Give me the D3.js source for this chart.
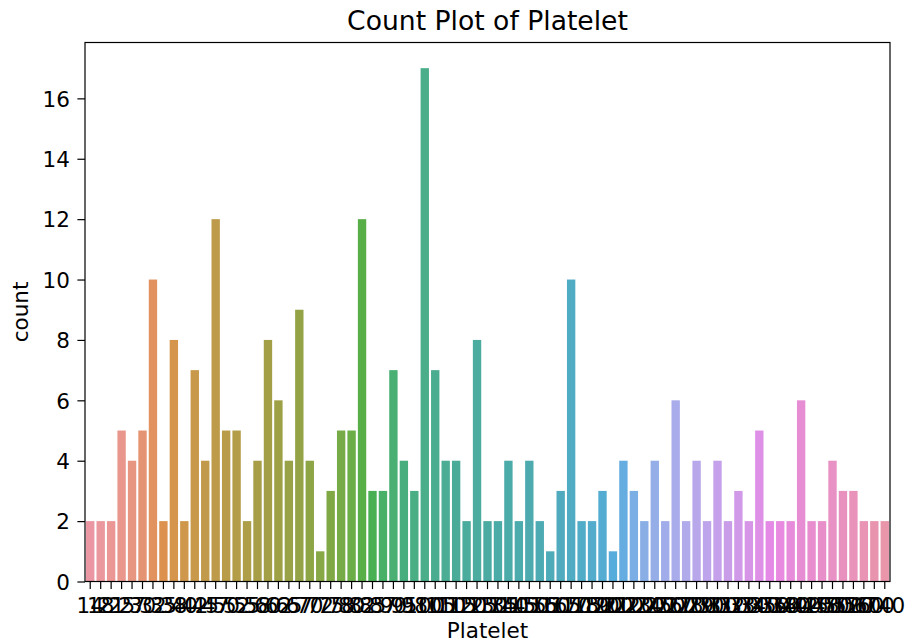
<!DOCTYPE html>
<html>
<head>
<meta charset="utf-8">
<script src="https://cdn.jsdelivr.net/npm/d3@7/dist/d3.min.js"></script>
<style>
  html, body { margin: 0; padding: 0; background: #ffffff; }
  svg { display: block; }
  text { font-family: "DejaVu Sans", sans-serif; fill: #000; }
</style>
</head>
<body>
<svg id="chart" width="907" height="641"></svg>
<script>
// Platelet values (category labels, ascending) and how often each occurs
const plateletLabels = [
  "14", "18", "21", "25", "27", "30", "32", "35", "38", "40",
  "42", "45", "47", "50", "52", "55", "58", "60", "62", "65",
  "67", "70", "72", "75", "78", "80", "82", "85", "87", "90",
  "95", "98", "100", "105", "110", "115", "120", "125", "130", "135",
  "140", "145", "150", "155", "160", "165", "170", "175", "180", "190",
  "200", "210", "220", "230", "240", "250", "260", "270", "280", "290",
  "300", "310", "320", "330", "340", "350", "360", "380", "400", "420",
  "450", "480", "500", "520", "560", "600", "740"
];
const plateletCounts = [
  2, 2, 2, 5, 4, 5, 10, 2, 8, 2,
  7, 4, 12, 5, 5, 2, 4, 8, 6, 4,
  9, 4, 1, 3, 5, 5, 12, 3, 3, 7,
  4, 3, 17, 7, 4, 4, 2, 8, 2, 2,
  4, 2, 4, 2, 1, 3, 10, 2, 2, 3,
  1, 4, 3, 2, 4, 2, 6, 2, 4, 2,
  4, 2, 3, 2, 5, 2, 2, 2, 6, 2,
  2, 4, 3, 3, 2, 2, 2
];
const yTickValues = [0, 2, 4, 6, 8, 10, 12, 14, 16];

const titleText = "Count Plot of Platelet";
const xLabelText = "Platelet";
const yLabelText = "count";

// ---- HUSL colour conversion (evenly spaced perceptual hues) ----
const M = [
  [3.2406, -1.5372, -0.4986],
  [-0.9689, 1.8758, 0.0415],
  [0.0557, -0.2040, 1.0570]
];
const refU = 0.19784, refV = 0.46834, labE = 0.008856, labK = 903.3;

function maxChroma(L, H) {
  const hrad = H * Math.PI / 180;
  const sinH = Math.sin(hrad), cosH = Math.cos(hrad);
  const sub1 = Math.pow(L + 16, 3) / 1560896.0;
  const sub2 = sub1 > 0.008856 ? sub1 : L / 903.3;
  let result = Infinity;
  for (const [m1, m2, m3] of M) {
    const top = (0.99915 * m1 + 1.05122 * m2 + 1.14460 * m3) * sub2;
    const rbottom = 0.86330 * m3 - 0.17266 * m2;
    const lbottom = 0.12949 * m3 - 0.38848 * m1;
    const bottom = (rbottom * sinH + lbottom * cosH) * sub2;
    for (const t of [0, 1]) {
      const C = L * (top - 1.05122 * t) / (bottom + 0.17266 * sinH * t);
      if (C > 0 && C < result) result = C;
    }
  }
  return result;
}
function fInv(t) {
  return Math.pow(t, 3) > labE ? Math.pow(t, 3) : (116 * t - 16) / labK;
}
function fromLinear(c) {
  return c <= 0.0031308 ? 12.92 * c : 1.055 * Math.pow(c, 1 / 2.4) - 0.055;
}
function huslToRgb(H, S, L) {
  const C = maxChroma(L, H) / 100 * S;
  const hrad = H * Math.PI / 180;
  const U = Math.cos(hrad) * C, V = Math.sin(hrad) * C;
  const Y = fInv((L + 16) / 116);
  const vU = U / (13 * L) + refU, vV = V / (13 * L) + refV;
  const X = -(9 * Y * vU) / ((vU - 4) * vV - vU * vV);
  const Z = (9 * Y - 15 * vV * Y - vV * X) / (3 * vV);
  return M.map(r => Math.min(1, Math.max(0, fromLinear(r[0] * X + r[1] * Y + r[2] * Z))));
}
function huslPalette(n, h = 0.01, s = 0.9, l = 0.7) {
  const out = [];
  for (let i = 0; i < n; i++) {
    const hue = ((i / n + h) % 1) * 359;
    const [r, g, b] = huslToRgb(hue, s * 99, l * 99);
    // desaturate to 75 %
    const c = d3.hsl(d3.rgb(r * 255, g * 255, b * 255));
    c.s *= 0.75;
    out.push(c.formatHex());
  }
  return out;
}
const barColors = huslPalette(plateletLabels.length);

// ---- layout ----
const svg = d3.select("#chart");
const plot = { left: 85, right: 890, top: 42.5, bottom: 581.5 };
const FS = 21.5;           // tick / axis-label font size
const tickLen = 7.6, tickPad = 7.6;

const x = d3.scaleBand()
  .domain(plateletLabels)
  .range([plot.left, plot.right])
  .paddingInner(0.2)
  .paddingOuter(0.1);

const yMax = d3.max(plateletCounts) * 1.05;
const y = d3.scaleLinear().domain([0, yMax]).range([plot.bottom, plot.top]);

// bars
svg.append("g")
  .selectAll("rect")
  .data(plateletLabels)
  .join("rect")
  .attr("x", d => x(d))
  .attr("width", x.bandwidth())
  .attr("y", (d, i) => y(plateletCounts[i]))
  .attr("height", (d, i) => y(0) - y(plateletCounts[i]))
  .attr("fill", (d, i) => barColors[i]);

// x axis
const xAxis = svg.append("g")
  .attr("transform", `translate(0,${plot.bottom})`)
  .call(d3.axisBottom(x).tickSize(tickLen).tickPadding(tickPad).tickSizeOuter(0));
xAxis.select(".domain").remove();
xAxis.selectAll(".tick line").attr("stroke", "#000").attr("stroke-width", 1.2);
xAxis.selectAll(".tick text")
  .attr("font-size", FS)
  .attr("font-family", "DejaVu Sans")
  .attr("fill", "#000")
  .attr("dy", "0.78em");

// y axis
const yAxis = svg.append("g")
  .attr("transform", `translate(${plot.left},0)`)
  .call(d3.axisLeft(y).tickValues(yTickValues).tickFormat(d3.format("d"))
    .tickSize(tickLen).tickPadding(tickPad).tickSizeOuter(0));
yAxis.select(".domain").remove();
yAxis.selectAll(".tick line").attr("stroke", "#000").attr("stroke-width", 1.2);
yAxis.selectAll(".tick text")
  .attr("font-size", FS)
  .attr("font-family", "DejaVu Sans")
  .attr("fill", "#000")
  .attr("dy", "0.36em");

// frame
svg.append("rect")
  .attr("x", plot.left).attr("y", plot.top)
  .attr("width", plot.right - plot.left).attr("height", plot.bottom - plot.top)
  .attr("fill", "none").attr("stroke", "#000").attr("stroke-width", 1.2);

// title and axis labels
svg.append("text")
  .attr("x", (plot.left + plot.right) / 2).attr("y", 29.5)
  .attr("text-anchor", "middle").attr("font-size", 26.6)
  .text(titleText);

svg.append("text")
  .attr("x", (plot.left + plot.right) / 2).attr("y", 637.5)
  .attr("text-anchor", "middle").attr("font-size", FS)
  .text(xLabelText);

svg.append("text")
  .attr("transform", `translate(28,${(plot.top + plot.bottom) / 2}) rotate(-90)`)
  .attr("text-anchor", "middle").attr("font-size", FS)
  .text(yLabelText);
</script>
</body>
</html>
